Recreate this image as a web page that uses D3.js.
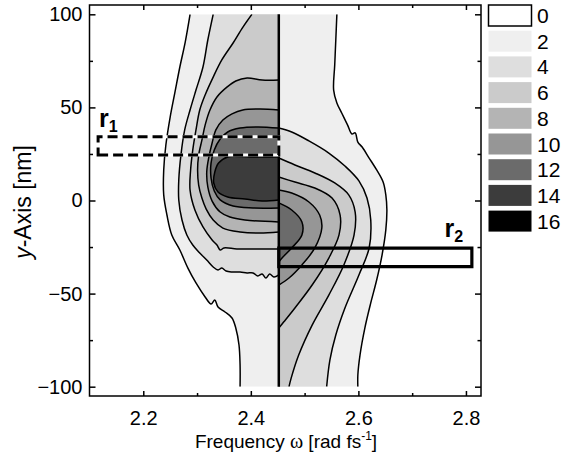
<!DOCTYPE html>
<html><head><meta charset="utf-8">
<script src="https://cdn.jsdelivr.net/npm/d3@7"></script>
<style>body{margin:0;background:#fff} text{font-family:"Liberation Sans",Arial,sans-serif}</style>
</head><body>
<svg id="c" width="574" height="457"></svg>
<script>
// ---------- data ----------
const levels = [0, 2, 4, 6, 8, 10, 12, 14, 16];
const levelColors = ["#ffffff","#efefef","#dedede","#cbcbcb","#b4b4b4","#969696","#6b6b6b","#3c3c3c","#000000"];
const xTicksMajor = [2.2, 2.4, 2.6, 2.8];
const xTicksMinor = [2.3, 2.5, 2.7];
const yTicksMajor = [-100, -50, 0, 50, 100];
const yTicksMinor = [-75, -25, 25, 75];
const splitFreq = 2.452;          // vertical divider
const yDataRange = [-100, 100];

// left half contour lines (frequency, y) ordered top -> bottom
const left2 = [[2.287,100],[2.278,85.1],[2.268,71.7],[2.259,58.3],[2.250,44.8],[2.242,29.8],[2.238,16.4],[2.238,3.0],[2.244,-7.8],[2.253,-18.5],[2.268,-26.6],[2.283,-36.3],[2.298,-44.3],[2.315,-51.8],[2.326,-55.6],[2.333,-53.4],[2.339,-57.2],[2.352,-59.9],[2.365,-63.1],[2.372,-68.5],[2.378,-77.6],[2.380,-88.3],[2.380,-100]];
const left4 = [[2.330,100],[2.320,86.2],[2.311,71.7],[2.298,59.3],[2.287,48.6],[2.277,37.9],[2.270,24.4],[2.266,11.0],[2.266,0.3],[2.272,-10.5],[2.281,-18.5],[2.292,-23.9],[2.305,-28.2],[2.318,-32.0],[2.330,-35.7],[2.339,-37.3],[2.346,-36.3],[2.354,-37.9],[2.365,-38.4],[2.380,-38.4],[2.393,-38.9],[2.404,-38.9],[2.413,-40.5],[2.421,-39.5],[2.428,-41.6],[2.435,-39.5],[2.443,-41.1],[2.452,-40.0]];
const left6 = [[2.402,100],[2.385,93.0],[2.367,84.6],[2.346,75.5],[2.330,66.3],[2.315,56.7],[2.305,48.6],[2.298,37.9],[2.292,27.1],[2.288,16.4],[2.287,5.6],[2.296,-5.1],[2.311,-14.2],[2.328,-21.2],[2.337,-23.9],[2.343,-26.6],[2.350,-25.5],[2.374,-26.0],[2.408,-26.0],[2.452,-26.0]];
const left8 = [[2.452,64.7],[2.421,64.7],[2.393,65.8],[2.372,64.2],[2.356,61.0],[2.337,55.6],[2.324,48.6],[2.315,40.5],[2.309,32.4],[2.303,24.4],[2.301,16.4],[2.303,8.3],[2.309,1.3],[2.317,-4.6],[2.330,-10.5],[2.348,-14.8],[2.380,-16.9],[2.417,-17.5],[2.452,-16.9]];
const left10 = [[2.452,48.6],[2.417,49.1],[2.385,48.6],[2.365,46.5],[2.348,43.2],[2.335,37.9],[2.328,30.9],[2.322,23.4],[2.318,15.3],[2.320,7.3],[2.328,-0.3],[2.343,-6.2],[2.361,-8.9],[2.389,-10.5],[2.452,-11.5]];
const left12 = [[2.452,38.9],[2.413,39.5],[2.380,38.9],[2.357,36.8],[2.343,33.0],[2.332,27.1],[2.326,20.1],[2.326,12.1],[2.332,5.1],[2.343,0.3],[2.367,-3.0],[2.404,-4.0],[2.452,-4.0]];
const left14 = [[2.452,23.4],[2.398,23.4],[2.357,23.4],[2.340,20.1],[2.333,15.3],[2.331,9.4],[2.339,4.6],[2.357,1.9],[2.389,0.8],[2.421,-0.3],[2.452,0.3]];

// right half contour lines
const right2 = [[2.560,100],[2.558,86.2],[2.556,72.8],[2.554,59.3],[2.560,52.4],[2.569,47.0],[2.580,40.5],[2.588,35.7],[2.594,36.3],[2.599,31.4],[2.607,28.7],[2.620,22.8],[2.634,16.4],[2.646,9.9],[2.651,3.0],[2.653,-5.1],[2.651,-15.8],[2.644,-29.3],[2.634,-42.7],[2.623,-55.0],[2.612,-68.5],[2.603,-83.0],[2.599,-93.7],[2.599,-100]];
const right4 = [[2.452,38.9],[2.476,36.8],[2.508,32.0],[2.545,25.5],[2.575,18.5],[2.601,10.5],[2.616,1.3],[2.623,-10.5],[2.620,-25.5],[2.601,-40.0],[2.575,-57.7],[2.558,-72.2],[2.547,-85.7],[2.541,-100]];
const right6 = [[2.452,22.8],[2.482,19.1],[2.519,14.8],[2.556,9.4],[2.582,3.0],[2.594,-6.2],[2.592,-18.5],[2.573,-34.6],[2.545,-50.8],[2.514,-66.9],[2.489,-83.0],[2.475,-95.4],[2.471,-100]];
const right8 = [[2.452,12.6],[2.482,9.9],[2.519,6.7],[2.551,1.3],[2.566,-7.8],[2.564,-18.5],[2.545,-30.9],[2.514,-45.4],[2.482,-57.7],[2.461,-65.3],[2.452,-68.5]];
const right10 = [[2.452,5.6],[2.476,4.0],[2.508,-0.8],[2.528,-7.8],[2.532,-14.8],[2.519,-25.5],[2.495,-34.6],[2.471,-41.6],[2.452,-45.4]];
const right12 = [[2.452,-1.3],[2.476,-5.1],[2.495,-11.5],[2.495,-18.5],[2.476,-25.5],[2.458,-30.9],[2.452,-33.0]];

// marked regions
const r1Box = [2.116, 2.452, 24.5, 34.2];   // x0, x1, y0, y1
const r2Box = [2.452, 2.811, -35.5, -25.6];

// ---------- drawing ----------
const svg = d3.select("#c");
const x = d3.scaleLinear().domain([2.1, 2.828]).range([89.5, 481]);
const y = d3.scaleLinear().domain([-105, 105]).range([396, 5]);
const color = d3.scaleOrdinal().domain(levels).range(levelColors);

const leftSet = [[2,left2],[4,left4],[6,left6],[8,left8],[10,left10],[12,left12],[14,left14]];
const rightSet = [[2,right2],[4,right4],[6,right6],[8,right8],[10,right10],[12,right12]];

const defs = svg.append("defs");
defs.append("clipPath").attr("id","clipL").append("rect")
  .attr("x", x(2.1)).attr("y", y(yDataRange[1])).attr("width", x(splitFreq)-x(2.1)).attr("height", y(yDataRange[0])-y(yDataRange[1]));
defs.append("clipPath").attr("id","clipR").append("rect")
  .attr("x", x(splitFreq)).attr("y", y(yDataRange[1])).attr("width", x(2.828)-x(splitFreq)).attr("height", y(yDataRange[0])-y(yDataRange[1]));

const line = d3.line().x(d => x(d[0])).y(d => y(d[1])).curve(d3.curveCatmullRom.alpha(0.5));
function fillPath(pts){
  const f = pts[0], l = pts[pts.length-1];
  return line(pts) + `L${x(splitFreq)},${y(l[1])}L${x(splitFreq)},${y(f[1])}Z`;
}

function drawHalf(set, clip){
  const g = svg.append("g").attr("clip-path", `url(#${clip})`);
  g.selectAll("path.fill").data(set).join("path").attr("class","fill")
    .attr("d", d => fillPath(d[1])).attr("fill", d => color(d[0])).attr("stroke","none");
  g.selectAll("path.ln").data(set).join("path").attr("class","ln")
    .attr("d", d => line(d[1])).attr("fill","none").attr("stroke","#000").attr("stroke-width",1.5);
}
drawHalf(leftSet, "clipL");
drawHalf(rightSet, "clipR");

// divider
svg.append("line").attr("x1", x(splitFreq)).attr("x2", x(splitFreq))
  .attr("y1", y(yDataRange[0])).attr("y2", y(yDataRange[1]))
  .attr("stroke","#000").attr("stroke-width",2.5);

// r1 dashed box
function boxPath(b){ return `M${x(b[0])},${y(b[2])}H${x(b[1])}V${y(b[3])}H${x(b[0])}Z`; }
svg.append("path").attr("d", boxPath(r1Box)).attr("fill","none").attr("stroke","#fff").attr("stroke-width",3);
svg.append("path").attr("d", boxPath(r1Box)).attr("fill","none").attr("stroke","#000").attr("stroke-width",3)
  .attr("stroke-dasharray","10,5");
svg.append("path").attr("d", boxPath(r2Box)).attr("fill","none").attr("stroke","#000").attr("stroke-width",3.2);

// labels r1, r2
function rLabel(px, py, sub){
  const t = svg.append("text").attr("x", px).attr("y", py).attr("font-size", 25).attr("font-weight","bold").text("r");
  t.append("tspan").attr("font-size", 16).attr("dy", 5).text(sub);
}
rLabel(x(2.116)+1, y(39.5), "1");
rLabel(x(2.76)+0, y(-19.5), "2");

// axes
const fr = svg.append("g");
function styleAxis(g){ g.select(".domain").remove(); g.selectAll("line").attr("stroke","#000").attr("stroke-width",1.5); g.selectAll("text").attr("font-size",20).attr("fill","#000").attr("font-family","Liberation Sans, Arial, sans-serif"); }
fr.append("g").attr("transform",`translate(0,396)`).call(d3.axisBottom(x).tickValues(xTicksMajor).tickSize(-5).tickPadding(15).tickFormat(d3.format(".1f"))).call(styleAxis);
fr.append("g").attr("transform",`translate(0,396)`).call(d3.axisBottom(x).tickValues(xTicksMinor).tickSize(-3).tickFormat("")).call(styleAxis);
fr.append("g").attr("transform",`translate(0,5)`).call(d3.axisTop(x).tickValues(xTicksMajor).tickSize(-5).tickFormat("")).call(styleAxis);
fr.append("g").attr("transform",`translate(0,5)`).call(d3.axisTop(x).tickValues(xTicksMinor).tickSize(-3).tickFormat("")).call(styleAxis);
fr.append("g").attr("transform",`translate(89.5,0)`).call(d3.axisLeft(y).tickValues(yTicksMajor).tickSize(-6).tickPadding(7)).call(styleAxis);
fr.append("g").attr("transform",`translate(89.5,0)`).call(d3.axisLeft(y).tickValues(yTicksMinor).tickSize(-3.5).tickFormat("")).call(styleAxis);
fr.append("g").attr("transform",`translate(481,0)`).call(d3.axisRight(y).tickValues(yTicksMajor).tickSize(-6).tickFormat("")).call(styleAxis);
fr.append("g").attr("transform",`translate(481,0)`).call(d3.axisRight(y).tickValues(yTicksMinor).tickSize(-3.5).tickFormat("")).call(styleAxis);
svg.append("rect").attr("x",89.5).attr("y",5).attr("width",481-89.5).attr("height",391)
  .attr("fill","none").attr("stroke","#000").attr("stroke-width",1.5);

// axis titles
const xt = svg.append("text").attr("x", 286).attr("y", 448).attr("text-anchor","middle").attr("font-size",19);
xt.append("tspan").text("Frequency ");
xt.append("tspan").attr("font-family","Liberation Serif, serif").attr("font-size",20).text("ω");
xt.append("tspan").text(" [rad fs");
xt.append("tspan").attr("font-size",12).attr("dy",-8).text("-1");
xt.append("tspan").attr("dy",8).text("]");

const yt = svg.append("text").attr("transform","translate(31,202) rotate(-90)").attr("text-anchor","middle").attr("font-size",23);
yt.append("tspan").attr("font-style","italic").text("y");
yt.append("tspan").text("-Axis [nm]");

// legend
const lg = svg.append("g");
const step = 25.7;
lg.selectAll("rect").data(levels).join("rect")
  .attr("x", 488.5).attr("y", (d,i) => 5 + i*step).attr("width", 43).attr("height", 21)
  .attr("fill", d => color(d)).attr("stroke", d => d === 0 ? "#000" : "none").attr("stroke-width", 1.5);
lg.selectAll("text").data(levels).join("text")
  .attr("x", 537).attr("y", (d,i) => 5 + i*step + 10.5).attr("dy","0.36em")
  .attr("font-size", 21).text(d => d);
</script>
</body></html>
